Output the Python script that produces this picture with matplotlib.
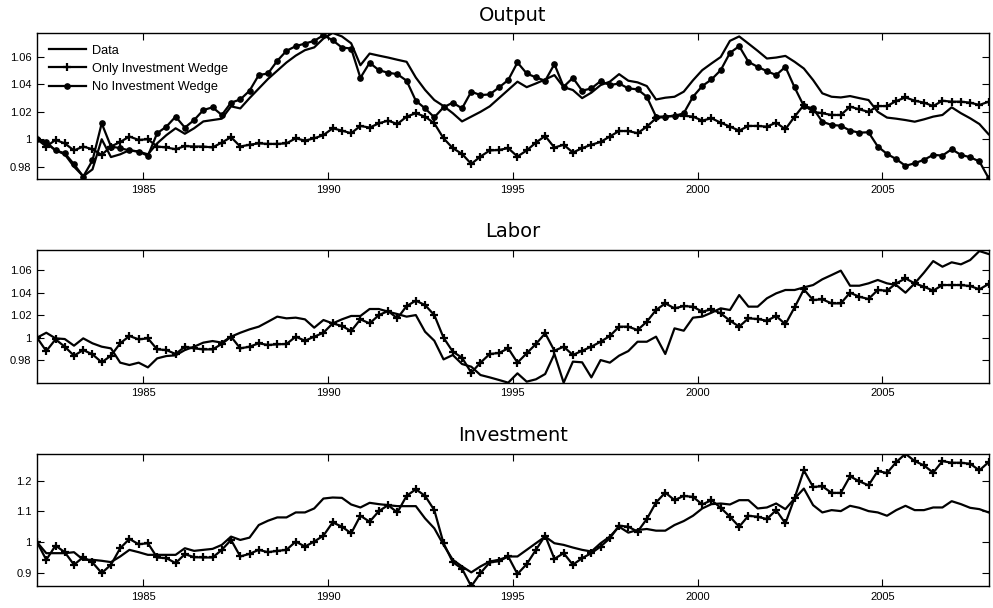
import matplotlib
matplotlib.use('Agg')
import matplotlib.pyplot as plt
import numpy as np

plt.rcParams['font.family'] = ['Liberation Sans', 'DejaVu Sans']

# quarterly dates, 1982 to 2007
n_q = 104
dates = 1982.125 + 0.25 * np.arange(n_q)

# Output
out_data = [1.0, 0.997, 0.992, 0.989, 0.980, 0.973, 0.978, 1.000, 0.987, 0.989,
            0.992, 0.991, 0.989, 0.997, 1.003, 1.008, 1.004, 1.008, 1.013, 1.014,
            1.015, 1.024, 1.0225, 1.030, 1.037, 1.044, 1.050, 1.056, 1.061, 1.065,
            1.067, 1.0735, 1.0776, 1.075, 1.070, 1.054, 1.0625, 1.061, 1.0596, 1.058,
            1.0565, 1.045, 1.036, 1.0286, 1.0242, 1.019, 1.013, 1.0165, 1.020, 1.024,
            1.030, 1.036, 1.042, 1.038, 1.0407, 1.0436, 1.0468, 1.038, 1.0359, 1.030,
            1.034, 1.0395, 1.042, 1.0475, 1.0427, 1.0415, 1.0388, 1.029, 1.0303, 1.031,
            1.0347, 1.043, 1.0504, 1.0553, 1.060, 1.0718, 1.075, 1.0698, 1.0645, 1.0589,
            1.0596, 1.0608, 1.0565, 1.0516, 1.0432, 1.0335, 1.031, 1.0305, 1.0315, 1.030,
            1.0286, 1.020, 1.0158, 1.015, 1.014, 1.0128, 1.0145, 1.0165, 1.0177, 1.0233,
            1.019, 1.0153, 1.0111, 1.0036]
out_only = [1.0, 0.9947, 0.9995, 0.997, 0.9918, 0.9947, 0.9927, 0.9886, 0.9947, 0.998,
            1.002, 0.9995, 1.0, 0.9947, 0.994, 0.9927, 0.995, 0.9947, 0.9947, 0.994,
            0.9976, 1.0015, 0.9947, 0.996, 0.997, 0.9966, 0.9966, 0.997, 1.0007, 0.999,
            1.0007, 1.003, 1.008, 1.0063, 1.0044, 1.0097, 1.0085, 1.0116, 1.0136, 1.0111,
            1.0165, 1.019, 1.0165, 1.0116, 1.0007, 0.9935, 0.9893, 0.982, 0.9874, 0.9918,
            0.9922, 0.9935, 0.9874, 0.9918, 0.9976, 1.0024, 0.9939, 0.996, 0.9903, 0.9935,
            0.996, 0.998, 1.002, 1.006, 1.006, 1.0044, 1.0092, 1.0153, 1.0165, 1.0172,
            1.0172, 1.0165, 1.0136, 1.0153, 1.0121, 1.0092, 1.0063, 1.0097, 1.0097, 1.0092,
            1.0121, 1.0073, 1.0165, 1.025, 1.020, 1.019, 1.0177, 1.0177, 1.0238, 1.0218,
            1.020, 1.0242, 1.0242, 1.0279, 1.0305, 1.0281, 1.0267, 1.0242, 1.0281, 1.0274,
            1.0274, 1.0267, 1.025, 1.0274]
out_no = [1.0, 0.998, 0.9918, 0.9898, 0.9818, 0.9728, 0.9845, 1.0116, 0.9947, 0.9935,
          0.9918, 0.991, 0.9879, 1.0044, 1.0092, 1.0165, 1.0085, 1.014, 1.0213, 1.0233,
          1.0177, 1.0267, 1.029, 1.0354, 1.0468, 1.048, 1.0572, 1.0645, 1.0679, 1.0698,
          1.0718, 1.0759, 1.0722, 1.0669, 1.0662, 1.0448, 1.0558, 1.0504, 1.0485, 1.0475,
          1.0427, 1.0281, 1.0225, 1.016, 1.0233, 1.0267, 1.0225, 1.0347, 1.0322, 1.0327,
          1.0378, 1.0432, 1.056, 1.048, 1.0451, 1.0427, 1.0548, 1.0383, 1.0448, 1.0354,
          1.0371, 1.0424, 1.0395, 1.0407, 1.0371, 1.0364, 1.031, 1.0165, 1.0165, 1.017,
          1.019, 1.031, 1.0388, 1.0436, 1.0504, 1.063, 1.0679, 1.0565, 1.0528, 1.0497,
          1.0468, 1.0528, 1.0378, 1.0242, 1.0225, 1.0128, 1.0104, 1.0099, 1.0063, 1.0048,
          1.0051, 0.9947, 0.9893, 0.9855, 0.9806, 0.9825, 0.985, 0.9886, 0.9881, 0.9927,
          0.9886, 0.9869, 0.9838, 0.9716]

# Labor
lab_data = [1.0, 1.0044, 0.9994, 0.9988, 0.9929, 0.9994, 0.995, 0.992, 0.9905, 0.9778,
            0.9757, 0.9778, 0.9736, 0.9816, 0.9837, 0.9843, 0.989, 0.992, 0.9956, 0.997,
            0.9956, 1.0009, 1.0044, 1.0074, 1.0098, 1.0142, 1.0187, 1.0172, 1.0178, 1.0163,
            1.0089, 1.0157, 1.0127, 1.0163, 1.0193, 1.0193, 1.0255, 1.0255, 1.0231, 1.021,
            1.0187, 1.0201, 1.0053, 0.9973, 0.9807, 0.9846, 0.9766, 0.9742, 0.9668, 0.9647,
            0.9624, 0.960, 0.9683, 0.9609, 0.963, 0.9677, 0.9855, 0.960, 0.9787, 0.9781,
            0.9647, 0.9801, 0.9778, 0.984, 0.9881, 0.9964, 0.9964, 1.0009, 0.9855, 1.0083,
            1.0062, 1.0178, 1.0187, 1.0222, 1.0261, 1.0246, 1.0379, 1.0276, 1.0276, 1.035,
            1.0394, 1.0424, 1.0424, 1.0447, 1.0468, 1.0519, 1.0557, 1.0596, 1.0462, 1.0462,
            1.0483, 1.0513, 1.0483, 1.0468, 1.040, 1.0483, 1.0578, 1.0681, 1.0631, 1.067,
            1.0652, 1.069, 1.077, 1.0744]
lab_only = [1.0, 0.9881, 0.9985, 0.992, 0.984, 0.989, 0.9852, 0.9781, 0.984, 0.995,
            1.0015, 0.9985, 0.9994, 0.9896, 0.989, 0.9855, 0.992, 0.9905, 0.9896, 0.9896,
            0.9944, 1.0009, 0.9905, 0.992, 0.995, 0.9935, 0.9941, 0.9944, 1.0009, 0.9973,
            1.0009, 1.0044, 1.0127, 1.0104, 1.0059, 1.0163, 1.0127, 1.0201, 1.0237, 1.0172,
            1.0281, 1.0329, 1.029, 1.0201, 1.0, 0.9876, 0.9822, 0.9689, 0.9778, 0.9855,
            0.9864, 0.9905, 0.9778, 0.9861, 0.9944, 1.0039, 0.9884, 0.992, 0.9846, 0.9884,
            0.992, 0.9964, 1.0015, 1.0098, 1.0098, 1.0068, 1.0142, 1.0246, 1.0305, 1.0261,
            1.0281, 1.0276, 1.0231, 1.0252, 1.0216, 1.0151, 1.0098, 1.0172, 1.0166, 1.0151,
            1.0193, 1.0119, 1.027, 1.043, 1.0335, 1.0341, 1.0305, 1.0305, 1.040, 1.0364,
            1.0344, 1.0424, 1.0418, 1.0483, 1.0527, 1.0483, 1.0453, 1.0418, 1.0468, 1.0468,
            1.0468, 1.0459, 1.043, 1.0477]

# Investment
inv_data = [1.0, 0.9645, 0.9645, 0.9645, 0.9677, 0.943, 0.943, 0.9398, 0.9355, 0.9538,
            0.9753, 0.9677, 0.9591, 0.9591, 0.9591, 0.9591, 0.9806, 0.972, 0.9753, 0.9785,
            0.9914, 1.0183, 1.0075, 1.015, 1.0559, 1.0699, 1.0806, 1.0806, 1.0968, 1.0968,
            1.1097, 1.1419, 1.1452, 1.1441, 1.1226, 1.1129, 1.128, 1.1237, 1.1204, 1.1172,
            1.1172, 1.1172, 1.0774, 1.0452, 0.9914, 0.943, 0.9215, 0.9022, 0.9215, 0.9376,
            0.943, 0.9538, 0.9538, 0.9753, 0.9968, 1.0183, 0.9968, 0.9914, 0.9828, 0.9753,
            0.9699, 0.9968, 1.0183, 1.0505, 1.0312, 1.0398, 1.043, 1.0376, 1.0376, 1.0559,
            1.0688, 1.086, 1.1097, 1.1237, 1.1258, 1.1226, 1.1366, 1.1366, 1.1097, 1.1129,
            1.1258, 1.1075, 1.1419, 1.1742, 1.1204, 1.0968, 1.1043, 1.1011, 1.1183, 1.1118,
            1.1011, 1.0968, 1.086, 1.1043, 1.1183, 1.1043, 1.1043, 1.1129, 1.1129, 1.1333,
            1.1237, 1.1118, 1.1075, 1.0968]
inv_only = [1.0, 0.943, 0.9892, 0.9677, 0.9269, 0.9516, 0.9344, 0.900, 0.9269, 0.9806,
            1.0108, 0.9935, 0.9968, 0.9505, 0.9484, 0.9323, 0.9613, 0.9516, 0.9505, 0.9505,
            0.9753, 1.0075, 0.9538, 0.9624, 0.9753, 0.9677, 0.972, 0.9753, 1.0022, 0.986,
            1.0022, 1.0215, 1.0645, 1.0505, 1.029, 1.086, 1.0667, 1.1011, 1.1204, 1.0968,
            1.1505, 1.172, 1.1505, 1.1043, 0.9968, 0.9355, 0.914, 0.857, 0.900, 0.9344,
            0.9387, 0.9538, 0.8968, 0.929, 0.9753, 1.0215, 0.9462, 0.9645, 0.9269, 0.9484,
            0.9645, 0.986, 1.0129, 1.0538, 1.0505, 1.0344, 1.0753, 1.129, 1.1613, 1.1366,
            1.1505, 1.1473, 1.1226, 1.1366, 1.1118, 1.0828, 1.0505, 1.086, 1.0828, 1.0753,
            1.1043, 1.0613, 1.1441, 1.2333, 1.1796, 1.1817, 1.1602, 1.1602, 1.214, 1.1978,
            1.1849, 1.2312, 1.2247, 1.2602, 1.2871, 1.2634, 1.2495, 1.2258, 1.2634, 1.2581,
            1.2581, 1.2548, 1.2333, 1.2602]

year_ticks = [1985, 1990, 1995, 2000, 2005]

fig = plt.figure(figsize=(9.93, 6.08), dpi=100)
ax1 = fig.add_axes([0.0373, 0.7056, 0.9583, 0.2401])
ax2 = fig.add_axes([0.0373, 0.3706, 0.9583, 0.2183])
ax3 = fig.add_axes([0.0373, 0.0357, 0.9583, 0.2181])

lw = 1.6
ax1.plot(dates, out_data, color='k', lw=lw, label='Data')
ax1.plot(dates, out_only, color='k', lw=lw, marker='+', ms=6, mew=1.6,
         label='Only Investment Wedge')
ax1.plot(dates, out_no, color='k', lw=lw, marker='o', ms=3.8,
         label='No Investment Wedge')
ax1.legend(loc='upper left', frameon=False, fontsize=9.2, handlelength=2.95,
           handletextpad=0.45, labelspacing=0.5, borderaxespad=0.5)

ax2.plot(dates, lab_data, color='k', lw=lw)
ax2.plot(dates, lab_only, color='k', lw=lw, marker='+', ms=6, mew=1.6)

ax3.plot(dates, inv_data, color='k', lw=lw)
ax3.plot(dates, inv_only, color='k', lw=lw, marker='+', ms=6, mew=1.6)

for ax, name in ((ax1, 'Output'), (ax2, 'Labor'), (ax3, 'Investment')):
    ax.set_title(name, fontsize=14, pad=9, family='DejaVu Sans')

ax1.set_ylim(0.971, 1.0775)
ax2.set_ylim(0.960, 1.078)
ax3.set_ylim(0.857, 1.2875)

small_ticks = [0.98, 1.0, 1.02, 1.04, 1.06]
small_labels = ['0.98', '1', '1.02', '1.04', '1.06']
for ax in (ax1, ax2):
    ax.set_yticks(small_ticks)
    ax.set_yticklabels(small_labels)
ax3.set_yticks([0.9, 1.0, 1.1, 1.2])
ax3.set_yticklabels(['0.9', '1', '1.1', '1.2'])

for ax in (ax1, ax2, ax3):
    ax.set_xlim(dates[0], dates[-1])
    ax.set_xticks(year_ticks)
    ax.tick_params(direction='in', top=True, right=True, labelsize=8,
                   length=5, width=0.8, pad=4)
    for s in ax.spines.values():
        s.set_linewidth(1.0)

fig.savefig('out.png', dpi=100)
